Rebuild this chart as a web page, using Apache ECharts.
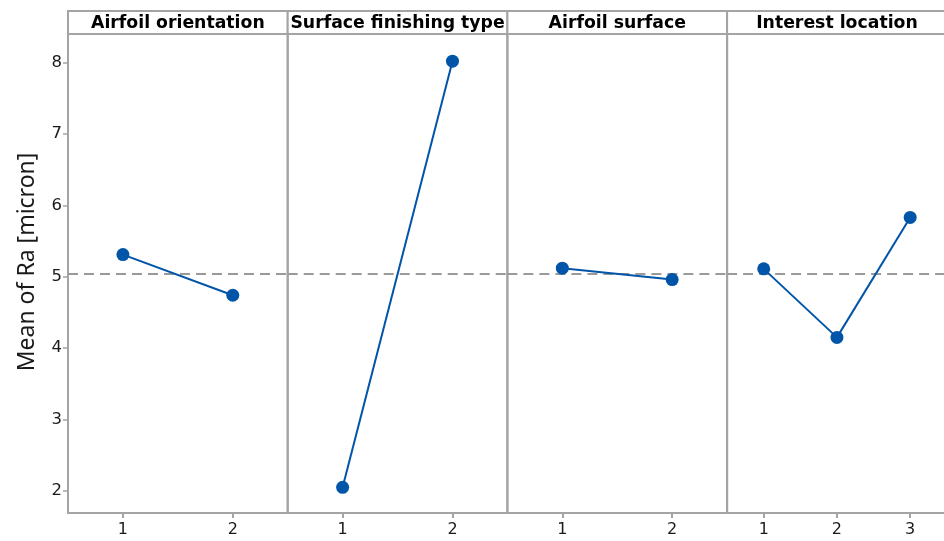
<!DOCTYPE html>
<html>
<head>
<meta charset="utf-8">
<script src="https://cdn.jsdelivr.net/npm/echarts@6/dist/echarts.min.js"></script>
<style>
  html, body { margin: 0; padding: 0; background: #fff; }
  #chart { width: 944px; height: 541px; }
</style>
</head>
<body>
<div id="chart"></div>
<script>
// ---- data ----
const panelTitles = ['Airfoil orientation', 'Surface finishing type', 'Airfoil surface', 'Interest location'];
const levelsOrientation = ['1', '2'];
const levelsFinishing = ['1', '2'];
const levelsSurface = ['1', '2'];
const levelsLocation = ['1', '2', '3'];
const meansOrientation = [5.31, 4.74];
const meansFinishing = [2.05, 8.02];
const meansSurface = [5.12, 4.96];
const meansLocation = [5.11, 4.15, 5.83];
const grandMean = 5.04;
const yTicks = [2, 3, 4, 5, 6, 7, 8];
const yAxisTitle = 'Mean of Ra [micron]';

// ---- layout ----
const panelLevels = [levelsOrientation, levelsFinishing, levelsSurface, levelsLocation];
const panelMeans = [meansOrientation, meansFinishing, meansSurface, meansLocation];
const plotLeft = 68, panelW = 219.7, plotTop = 34, plotBottom = 28, headerTop = 11;
const gray = '#a4a4a4';
const blue = '#0055a8';
const textColor = '#1a1a1a';
const fontFam = '"DejaVu Sans", Verdana, sans-serif';

const grids = [], xAxes = [], yAxes = [], series = [], graphics = [];
panelTitles.forEach((t, i) => {
  const left = plotLeft + i * panelW;
  grids.push({
    left: left, width: panelW, top: plotTop, bottom: plotBottom,
    outerBoundsMode: 'none', containLabel: false,
    show: true, borderColor: gray, borderWidth: 2, backgroundColor: 'transparent'
  });
  xAxes.push({
    type: 'category', gridIndex: i, data: panelLevels[i], boundaryGap: true,
    axisLine: { show: true, lineStyle: { color: gray, width: 2 } },
    axisTick: { show: true, alignWithLabel: true, length: 5, lineStyle: { color: gray, width: 2 } },
    axisLabel: { fontSize: 16, color: textColor, margin: 9, fontFamily: fontFam },
    splitLine: { show: false }
  });
  const first = i === 0;
  yAxes.push({
    type: 'value', gridIndex: i, min: 1.69, max: 8.4,
    axisLine: { show: first, lineStyle: { color: gray, width: 2 } },
    axisTick: { show: first, length: 5, lineStyle: { color: gray, width: 1.5 }, customValues: yTicks },
    axisLabel: { show: first, fontSize: 16.5, color: textColor, margin: 6, fontFamily: fontFam, customValues: yTicks },
    splitLine: { show: false }
  });
  series.push({
    type: 'line', xAxisIndex: i, yAxisIndex: i, data: panelMeans[i],
    symbol: 'circle', symbolSize: 13,
    lineStyle: { color: blue, width: 2 },
    itemStyle: { color: blue },
    z: 5,
    markLine: {
      silent: true, symbol: ['none', 'none'],
      label: { show: false },
      lineStyle: { color: '#9a9a9a', width: 2, type: [10, 6] },
      data: [{ yAxis: grandMean }],
      z: 2
    }
  });
  graphics.push({
    type: 'rect',
    shape: { x: left, y: headerTop, width: panelW, height: plotTop - headerTop },
    style: { fill: '#fff', stroke: gray, lineWidth: 2 }
  });
  graphics.push({
    type: 'text',
    x: left + panelW / 2, y: headerTop + (plotTop - headerTop) / 2 + 1,
    style: {
      text: t, fill: '#000', font: 'bold 17.3px ' + fontFam,
      textAlign: 'center', textVerticalAlign: 'middle'
    }
  });
});
graphics.push({
  type: 'text',
  x: 27, y: (headerTop + (541 - plotBottom)) / 2,
  rotation: Math.PI / 2,
  style: {
    text: yAxisTitle, fill: textColor, font: '23px "Noto Sans", "Open Sans", sans-serif',
    textAlign: 'center', textVerticalAlign: 'middle'
  }
});

const chart = echarts.init(document.getElementById('chart'), null, { renderer: 'canvas' });
chart.setOption({
  animation: false,
  backgroundColor: '#fff',
  grid: grids,
  xAxis: xAxes,
  yAxis: yAxes,
  series: series,
  graphic: graphics
});
</script>
</body>
</html>
